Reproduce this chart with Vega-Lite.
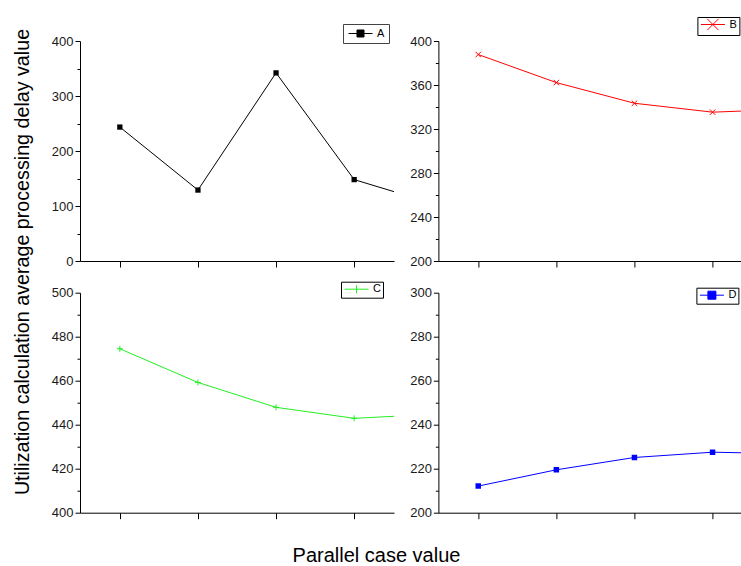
{
  "$schema": "https://vega.github.io/schema/vega-lite/v6.json",
  "background": "white",
  "padding": {"left": 12, "top": 16, "right": 0, "bottom": 0},
  "data": {"values": [
    {"s": "A", "x": 1, "y": 243.5}, {"s": "A", "x": 2, "y": 129}, {"s": "A", "x": 3, "y": 342}, {"s": "A", "x": 4, "y": 148}, {"s": "A", "x": 5, "y": 105},
    {"s": "B", "x": 1, "y": 387.7}, {"s": "B", "x": 2, "y": 362.2}, {"s": "B", "x": 3, "y": 343.4}, {"s": "B", "x": 4, "y": 335.3}, {"s": "B", "x": 5, "y": 338},
    {"s": "C", "x": 1, "y": 474.5}, {"s": "C", "x": 2, "y": 459.2}, {"s": "C", "x": 3, "y": 447.9}, {"s": "C", "x": 4, "y": 442.9}, {"s": "C", "x": 5, "y": 444.7},
    {"s": "D", "x": 1, "y": 212.1}, {"s": "D", "x": 2, "y": 219.5}, {"s": "D", "x": 3, "y": 225.1}, {"s": "D", "x": 4, "y": 227.5}, {"s": "D", "x": 5, "y": 226.8}
  ]},
  "columns": 2,
  "spacing": {"row": 31.7, "column": 44.4},
  "bounds": "flush",
  "resolve": {"scale": {"color": "independent", "y": "independent"}, "legend": {"color": "independent"}},
  "concat": [
    {
      "width": 314, "height": 220,
      "transform": [{"filter": "datum.s === 'A'"}],
      "encoding": {
        "x": {"field": "x", "type": "quantitative", "scale": {"domain": [0.49, 4.51], "nice": false, "zero": false},
              "axis": {"values": [1, 2, 3, 4], "labels": false, "title": null, "tickSize": 6}},
        "y": {"field": "y", "type": "quantitative", "scale": {"domain": [0, 400], "nice": false, "zero": false},
              "axis": {"values": [0, 50, 100, 150, 200, 250, 300, 350, 400],
                       "labelExpr": "datum.value % 100 === 0 ? datum.label : ''",
                       "tickSize": {"condition": {"test": "datum.value % 100 !== 0", "value": 3}, "value": 5},
                       "title": "Utilization calculation average processing delay value",
                       "titleX": -51.8, "titleY": 220.5, "titleFontSize": 19.7, "titleFontWeight": "normal",
                       "titleAngle": 270, "titleBaseline": "alphabetic", "titleAlign": "center", "titleColor": "#000000"}},
        "color": {"field": "s", "type": "nominal", "scale": {"domain": ["A"], "range": ["#000000"]},
                  "legend": {"orient": "none", "legendX": 263, "legendY": -17, "title": null, "strokeColor": "#444444", "fillColor": "white", "padding": 4,
                             "symbolType": "M-1,0H5M1.125,-0.875H2.875V0.875H1.125Z", "symbolSize": 64, "symbolStrokeWidth": 1,
                             "labelFontSize": 11, "labelOffset": 19, "labelColor": "#000000"}}
      },
      "layer": [
        {"mark": {"type": "line", "clip": true, "strokeWidth": 1}},
        {"mark": {"type": "point", "clip": true, "shape": "square", "filled": true, "size": 28, "opacity": 1}}
      ]
    },
    {
      "width": 314, "height": 220,
      "transform": [{"filter": "datum.s === 'B'"}],
      "encoding": {
        "x": {"field": "x", "type": "quantitative", "scale": {"domain": [0.49, 4.51], "nice": false, "zero": false},
              "axis": {"values": [1, 2, 3, 4], "labels": false, "title": null, "tickSize": 6}},
        "y": {"field": "y", "type": "quantitative", "scale": {"domain": [200, 400], "nice": false, "zero": false},
              "axis": {"values": [200, 220, 240, 260, 280, 300, 320, 340, 360, 380, 400],
                       "labelExpr": "datum.value % 40 === 0 ? datum.label : ''",
                       "tickSize": {"condition": {"test": "datum.value % 40 !== 0", "value": 3}, "value": 5},
                       "title": null}},
        "color": {"field": "s", "type": "nominal", "scale": {"domain": ["B"], "range": ["#ff0000"]},
                  "legend": {"orient": "none", "legendX": 259, "legendY": -24, "title": null, "strokeColor": "#000000", "fillColor": "white", "padding": 2,
                             "symbolType": "M-1,0H5M0.6,-1.4L3.4,1.4M0.6,1.4L3.4,-1.4", "symbolSize": 64, "symbolStrokeWidth": 1,
                             "labelFontSize": 11, "labelOffset": 19, "labelColor": "#000000"}}
      },
      "layer": [
        {"mark": {"type": "line", "clip": true, "strokeWidth": 1}},
        {"mark": {"type": "point", "clip": true, "shape": "M-1,-1L1,1M-1,1L1,-1", "filled": false, "size": 30, "opacity": 1, "strokeWidth": 1}}
      ]
    },
    {
      "width": 314, "height": 220,
      "transform": [{"filter": "datum.s === 'C'"}],
      "encoding": {
        "x": {"field": "x", "type": "quantitative", "scale": {"domain": [0.49, 4.51], "nice": false, "zero": false},
              "axis": {"values": [1, 2, 3, 4], "labels": false, "tickSize": 6,
                       "title": "Parallel case value", "titleX": 296, "titleY": 49, "titleBaseline": "alphabetic",
                       "titleAlign": "center", "titleFontSize": 20, "titleFontWeight": "normal", "titleColor": "#000000"}},
        "y": {"field": "y", "type": "quantitative", "scale": {"domain": [400, 500], "nice": false, "zero": false},
              "axis": {"values": [400, 410, 420, 430, 440, 450, 460, 470, 480, 490, 500],
                       "labelExpr": "datum.value % 20 === 0 ? datum.label : ''",
                       "tickSize": {"condition": {"test": "datum.value % 20 !== 0", "value": 3}, "value": 5},
                       "title": null}},
        "color": {"field": "s", "type": "nominal", "scale": {"domain": ["C"], "range": ["#22ee22"]},
                  "legend": {"orient": "none", "legendX": 261, "legendY": -11, "title": null, "strokeColor": "#000000", "fillColor": "white", "padding": 2,
                             "symbolType": "M-1,0H5M2,-1V1", "symbolSize": 64, "symbolStrokeWidth": 1,
                             "labelFontSize": 11, "labelOffset": 19, "labelColor": "#000000"}}
      },
      "layer": [
        {"mark": {"type": "line", "clip": true, "strokeWidth": 1}},
        {"mark": {"type": "point", "clip": true, "shape": "M-1,0H1M0,-1V1", "filled": false, "size": 36, "opacity": 1, "strokeWidth": 1}}
      ]
    },
    {
      "width": 314, "height": 220,
      "transform": [{"filter": "datum.s === 'D'"}],
      "encoding": {
        "x": {"field": "x", "type": "quantitative", "scale": {"domain": [0.49, 4.51], "nice": false, "zero": false},
              "axis": {"values": [1, 2, 3, 4], "labels": false, "title": null, "tickSize": 6}},
        "y": {"field": "y", "type": "quantitative", "scale": {"domain": [200, 300], "nice": false, "zero": false},
              "axis": {"values": [200, 210, 220, 230, 240, 250, 260, 270, 280, 290, 300],
                       "labelExpr": "datum.value % 20 === 0 ? datum.label : ''",
                       "tickSize": {"condition": {"test": "datum.value % 20 !== 0", "value": 3}, "value": 5},
                       "title": null}},
        "color": {"field": "s", "type": "nominal", "scale": {"domain": ["D"], "range": ["#0000ff"]},
                  "legend": {"orient": "none", "legendX": 258, "legendY": -5, "title": null, "strokeColor": "#000000", "fillColor": "white", "padding": 2,
                             "symbolType": "M-1,0H5M1,-1H3V1H1Z", "symbolSize": 64, "symbolStrokeWidth": 1,
                             "labelFontSize": 11, "labelOffset": 19, "labelColor": "#000000"}}
      },
      "layer": [
        {"mark": {"type": "line", "clip": true, "strokeWidth": 1}},
        {"mark": {"type": "point", "clip": true, "shape": "square", "filled": true, "size": 30, "opacity": 1}}
      ]
    }
  ],
  "config": {
    "font": "Liberation Sans",
    "view": {"stroke": null},
    "axis": {"grid": false, "domainColor": "#000000", "domainWidth": 1, "tickColor": "#000000", "tickWidth": 1,
             "labelColor": "#1a1a1a", "labelFontSize": 13, "labelFont": "Liberation Sans", "labelPadding": 2, "labelOverlap": false,
             "titleFont": "Liberation Sans"},
    "legend": {"labelFont": "Liberation Sans"}
  }
}
